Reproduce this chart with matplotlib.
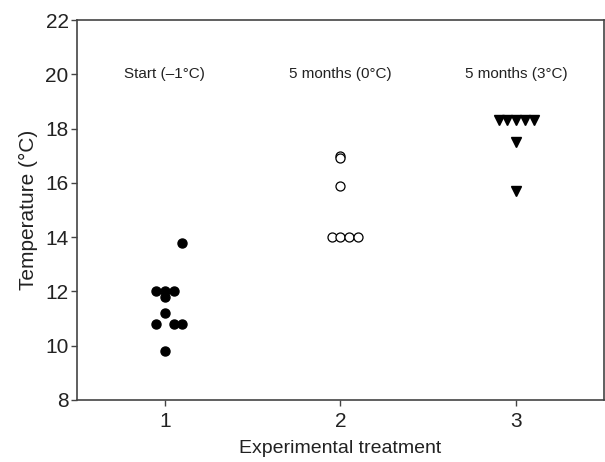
import matplotlib
matplotlib.use("Agg")
import matplotlib.pyplot as plt

plt.rcParams["font.family"] = ["Liberation Sans", "DejaVu Sans"]

# group 1: start (-1 C)
start_x = [1.10, 0.95, 1.00, 1.05, 1.00, 1.00, 0.95, 1.05, 1.10, 1.00]
start_y = [13.8, 12.0, 12.0, 12.0, 11.8, 11.2, 10.8, 10.8, 10.8, 9.8]

# group 2: 5 months (0 C)
zero_x = [2.00, 2.00, 2.00, 1.95, 2.00, 2.05, 2.10]
zero_y = [17.0, 16.9, 15.9, 14.0, 14.0, 14.0, 14.0]

# group 3: 5 months (3 C)
three_x = [2.90, 2.95, 3.00, 3.05, 3.10, 3.00, 3.00]
three_y = [18.3, 18.3, 18.3, 18.3, 18.3, 17.5, 15.7]

labels = ["Start (\u20131\u00b0C)", "5 months (0\u00b0C)", "5 months (3\u00b0C)"]
label_x = [1, 2, 3]
label_y = 20.0

fig = plt.figure(figsize=(6.05, 4.62), dpi=100)
ax = fig.add_axes([0.1273, 0.1342, 0.8710, 0.8225])

ax.plot(start_x, start_y, "o", color="black", markersize=6.5, linestyle="none")
ax.plot(zero_x, zero_y, "o", markerfacecolor="white", markeredgecolor="black",
        markeredgewidth=0.9, markersize=6.5, linestyle="none")
ax.plot(three_x, three_y, "v", color="black", markersize=7.5, linestyle="none")

for x, t in zip(label_x, labels):
    ax.text(x, label_y, t, ha="center", va="center", fontsize=11, color="#222222")

ax.set_xlim(0.5, 3.5)
ax.set_ylim(8, 22)
ax.set_xticks([1, 2, 3])
ax.set_yticks(range(8, 23, 2))
ax.tick_params(labelsize=15, length=4, width=1, color="#444444", labelcolor="#222222")
ax.tick_params(axis="x", pad=5)
ax.tick_params(axis="y", pad=2)
ax.set_xlabel("Experimental treatment", fontsize=14, color="#222222", labelpad=6)
ax.set_ylabel("Temperature (\u00b0C)", fontsize=15, color="#222222", labelpad=5)
for s in ax.spines.values():
    s.set_color("#444444")
    s.set_linewidth(1.2)

plt.savefig("out.png", dpi=100)
plt.close()
